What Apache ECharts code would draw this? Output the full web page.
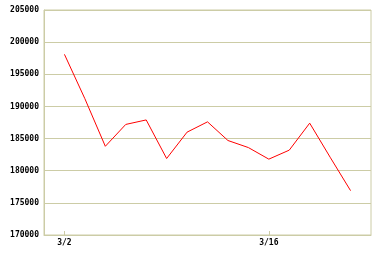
<!DOCTYPE html>
<html>
<head>
<meta charset="utf-8">
<script src="https://cdn.jsdelivr.net/npm/echarts@6/dist/echarts.min.js"></script>
<style>
html,body{margin:0;padding:0;background:#fff;}
#c{width:382px;height:258px;}
</style>
</head>
<body>
<div id="c"></div>
<script>
var dates = ['3/2','3/3','3/4','3/5','3/6','3/9','3/10','3/11','3/12','3/13','3/16','3/17','3/18','3/19','3/20'];
var values = [198100,191200,183800,187200,187900,181900,186000,187600,184700,183600,181800,183200,187400,182100,176900];
var yTicks = [170000,175000,180000,185000,190000,195000,200000,205000];
var labelEvery = 10;

var cats = [''].concat(dates).concat(['']);
var seriesData = [null].concat(values).concat([null]);
var gridColor = '#cccca6';

function showAt(i){ return i >= 1 && i <= dates.length && (i - 1) % labelEvery === 0; }

var chart = echarts.init(document.getElementById('c'), null, {renderer:'canvas'});
chart.setOption({
  animation:false,
  grid:{left:44,right:11,top:10,bottom:23,show:true,borderColor:gridColor,borderWidth:1,backgroundColor:'transparent'},
  xAxis:{
    type:'category',data:cats,boundaryGap:false,
    axisLine:{show:true,lineStyle:{color:gridColor,width:1}},
    axisTick:{show:true,inside:true,length:4,interval:function(i){return showAt(i);},lineStyle:{color:gridColor}},
    axisLabel:{interval:function(i){return showAt(i);},color:'#000',fontFamily:'DejaVu Sans Mono',fontSize:8,fontWeight:'bold',margin:4},
    splitLine:{show:false}
  },
  yAxis:{
    type:'value',min:yTicks[0],max:yTicks[yTicks.length-1],interval:5000,
    axisLine:{show:true,lineStyle:{color:gridColor}},
    axisTick:{show:false},
    axisLabel:{color:'#000',fontFamily:'DejaVu Sans Mono',fontSize:8,fontWeight:'bold',margin:5,formatter:function(v){return String(v);}},
    splitLine:{show:true,lineStyle:{color:gridColor,width:1}}
  },
  series:[{type:'line',data:seriesData,showSymbol:false,symbol:'none',connectNulls:false,lineStyle:{color:'#ff0000',width:1},itemStyle:{color:'#ff0000'}}]
});
</script>
</body>
</html>
